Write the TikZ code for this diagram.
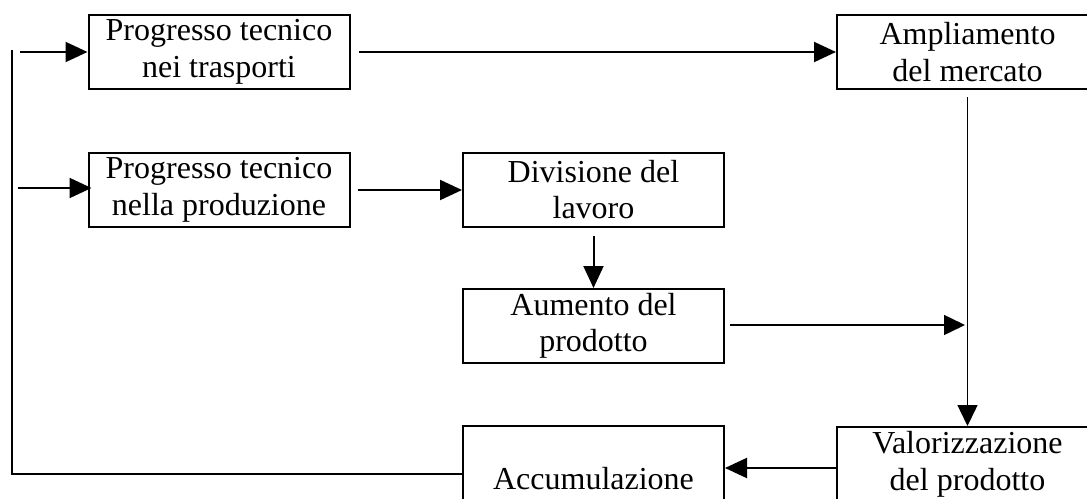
\documentclass[tikz,border=0pt]{standalone}
\usepackage{fontspec}
\setmainfont{Liberation Serif}
\usepackage{tikz}
\usetikzlibrary{arrows.meta}

\begin{document}
\begin{tikzpicture}[x=0.5pt,y=-0.5pt,
    box/.style={shape=rectangle, draw, line width=1pt, align=center, inner sep=0pt,
      minimum width=130.5pt, minimum height=37pt, font=\fontsize{16}{18.3}\selectfont,
      execute at begin node={\rule{0pt}{15.5pt}}},
    arr/.style={line width=1pt, -{Triangle[length=11pt,width=10pt]}},
    thinarr/.style={line width=0.75pt, -{Triangle[length=10.5pt,width=10pt]}}]
    \useasboundingbox (0,0) rectangle (1087,498);
    \clip (0,0) rectangle (1087,498);
    \fill[white] (0,0) rectangle (1087,498);
    \node[box] (trasp) at (219,52) {Progresso tecnico\\nei trasporti};
    \node[box] (prod) at (219,190) {Progresso tecnico\\nella produzione};
    \node[box] (div) at (593.5,189.5) {Divisione del\\lavoro};
    \node[box] (aum) at (593.5,326) {Aumento del\\prodotto};
    \node[box] (merc) at (967.5,52) {Ampliamento\\del mercato};
    \node[box] (valor) at (967.5,464) {Valorizzazione\\del prodotto};
    \node[box, minimum height=48pt] (acc) at (593.5,474) {Accumulazione};
    \coordinate (fbtop) at (12,50);
    \coordinate (in1) at (20,52);
    \coordinate (in2) at (18,188);
    \coordinate (join) at (965,325);
    \draw[line width=1pt] (acc.west) -| (fbtop);
    \draw[arr] (in1) -- (trasp.west);
    \draw[arr, shorten >=-2pt] (in2) -- (in2 -| prod.west);
    \draw[arr, shorten <=4pt] (trasp) -- (merc);
    \draw[arr, shorten <=3.5pt] (prod.east) -- (prod.east -| div.west);
    \draw[arr, shorten <=4pt] (div.south) -- (aum.north);
    \draw[thinarr, shorten <=2.5pt] (aum.east |- join) -- (join);
    \draw[thinarr, shorten <=3.5pt] (merc.south) -- (valor.north);
    \draw[arr] ([yshift=-2pt]valor.west) -- ([yshift=-2pt]valor.west -| acc.east);
  \end{tikzpicture}
\end{document}
